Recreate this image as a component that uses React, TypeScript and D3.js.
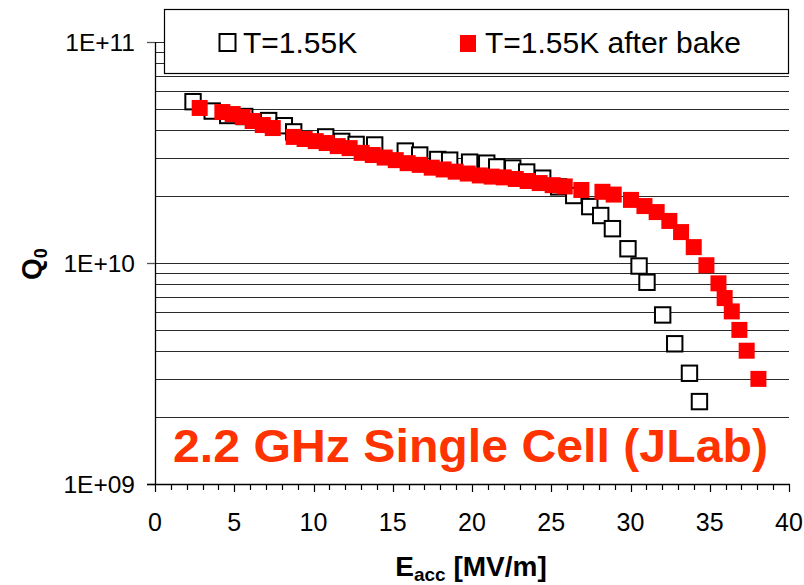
import React from "react";
import * as d3 from "d3";

const xTicks = [0, 5, 10, 15, 20, 25, 30, 35, 40];
const yTickLabels = ["1E+09", "1E+10", "1E+11"];
const yTickValues = [1e9, 1e10, 1e11];

// T=1.55K (open squares)
const eBefore = [2.40, 3.61, 4.59, 5.66, 7.17, 8.16, 8.75, 10.77, 11.78, 12.69, 13.86, 15.79, 16.70, 17.84, 18.59, 19.85, 20.93, 21.56, 22.57, 23.45, 24.46, 25.47, 26.42, 27.43, 28.12, 28.86, 29.84, 30.54, 31.04, 32.03, 32.79, 33.72, 34.35];
const qBefore = [5.37e10, 4.87e10, 4.65e10, 4.6e10, 4.41e10, 4.18e10, 3.92e10, 3.72e10, 3.55e10, 3.44e10, 3.42e10, 3.21e10, 3.08e10, 2.94e10, 2.92e10, 2.86e10, 2.83e10, 2.72e10, 2.69e10, 2.58e10, 2.42e10, 2.21e10, 2.02e10, 1.80e10, 1.64e10, 1.43e10, 1.16e10, 9.69e9, 8.18e9, 5.82e9, 4.31e9, 3.17e9, 2.36e9];

// T=1.55K after bake (red filled squares)
const eAfter = [2.82, 4.25, 4.90, 5.53, 6.16, 6.80, 7.43, 8.75, 9.44, 10.14, 10.83, 11.53, 12.28, 13.04, 13.74, 14.49, 15.19, 15.94, 16.70, 17.46, 18.21, 18.97, 19.73, 20.49, 21.24, 22.00, 22.76, 23.51, 24.27, 25.09, 25.85, 26.90, 28.23, 28.94, 30.03, 30.88, 31.65, 32.45, 33.19, 33.99, 34.79, 35.55, 35.94, 36.39, 36.87, 37.33, 38.07];
const qAfter = [5.03e10, 4.82e10, 4.72e10, 4.58e10, 4.39e10, 4.21e10, 4.08e10, 3.72e10, 3.64e10, 3.56e10, 3.49e10, 3.38e10, 3.31e10, 3.15e10, 3.08e10, 3.0e10, 2.92e10, 2.83e10, 2.78e10, 2.70e10, 2.65e10, 2.59e10, 2.54e10, 2.49e10, 2.46e10, 2.44e10, 2.40e10, 2.35e10, 2.30e10, 2.25e10, 2.22e10, 2.14e10, 2.10e10, 2.04e10, 1.93e10, 1.81e10, 1.70e10, 1.55e10, 1.38e10, 1.18e10, 9.77e9, 8.09e9, 6.94e9, 6.04e9, 4.98e9, 4.01e9, 2.99e9];

const seriesNames = ["T=1.55K", "T=1.55K after bake"];
const chartLabel = "2.2 GHz Single Cell (JLab)";

const FONT = "'Liberation Sans', Arial, sans-serif";

export default function App() {
  const left = 155, right = 789, top = 42, bottom = 484;
  const x = d3.scaleLinear().domain([0, 40]).range([left, right]);
  const y = d3.scaleLog().domain([1e9, 1e11]).range([bottom, top]);

  const gridVals: number[] = [];
  for (let d = 1e9; d < 1e11; d *= 10) {
    for (let k = 1; k <= 9; k++) gridVals.push(d * k);
  }
  gridVals.push(1e11);

  const xMinor = d3.range(0, 41, 1);

  const before = eBefore.map((e, i) => ({ e, q: qBefore[i] }));
  const after = eAfter.map((e, i) => ({ e, q: qAfter[i] }));

  return (
    <svg width={804} height={585} style={{ position: "absolute", left: 0, top: 0, background: "#fff" }} fontFamily={FONT}>
      {/* gridlines */}
      {gridVals.map((v, i) => (
        <line key={"g" + i} x1={left} x2={right} y1={Math.round(y(v)) + 0.5} y2={Math.round(y(v)) + 0.5} stroke="#2a2a2a" strokeWidth={1} />
      ))}
      {/* y axis */}
      <line x1={left + 0.5} x2={left + 0.5} y1={top} y2={bottom} stroke="#000" strokeWidth={1.3} />
      {yTickValues.map((v, i) => (
        <g key={"yt" + i}>
          <line x1={147} x2={left} y1={Math.round(y(v)) + 0.5} y2={Math.round(y(v)) + 0.5} stroke="#555" strokeWidth={1.3} />
          <text x={135} y={y(v)} dy="0.36em" textAnchor="end" fontSize={24.5} fill="#000">{yTickLabels[i]}</text>
        </g>
      ))}
      {/* x axis */}
      <line x1={147} x2={right + 1} y1={bottom + 0.5} y2={bottom + 0.5} stroke="#000" strokeWidth={1.3} />
      {xMinor.map((v) => (
        <line key={"xm" + v} x1={Math.round(x(v)) + 0.5} x2={Math.round(x(v)) + 0.5} y1={bottom} y2={bottom + (v % 5 === 0 ? 8 : 6)} stroke="#000" strokeWidth={1.2} />
      ))}
      {xTicks.map((v) => (
        <text key={"xl" + v} x={x(v)} y={531} textAnchor="middle" fontSize={25} fill="#000">{v}</text>
      ))}
      {/* axis titles */}
      <text x={471} y={576} textAnchor="middle" fontSize={28} fontWeight="bold" fill="#000">
        E<tspan fontSize={19} dy={5}>acc</tspan><tspan dy={-5}> [MV/m]</tspan>
      </text>
      <text transform="translate(41,264) rotate(-90)" textAnchor="middle" fontSize={28} fontWeight="bold" fill="#000">
        Q<tspan fontSize={18} dy={6}>0</tspan>
      </text>

      {/* data: open squares */}
      {before.map((d, i) => (
        <rect key={"b" + i} x={x(d.e) - 7.7} y={y(d.q) - 7.7} width={15.4} height={15.4} fill="#fff" stroke="#000" strokeWidth={2} />
      ))}
      {/* data: red squares */}
      {after.map((d, i) => (
        <rect key={"a" + i} x={x(d.e) - 8} y={y(d.q) - 8} width={16} height={16} fill="#ff0000" />
      ))}

      {/* chart label */}
      <text x={173} y={462} fontSize={47} fontWeight="bold" fill="#ff3300" textLength={595} lengthAdjust="spacingAndGlyphs">{chartLabel}</text>

      {/* legend */}
      <rect x={164.5} y={9.5} width={624} height={64} fill="#fff" stroke="#000" strokeWidth={1.2} />
      <rect x={219.5} y={34} width={16} height={17} fill="#fff" stroke="#000" strokeWidth={2} />
      <text x={243} y={53} fontSize={30} fill="#000">{seriesNames[0]}</text>
      <rect x={460} y={35} width={16} height={17} fill="#ff0000" />
      <text x={485} y={53} fontSize={30} fill="#000">{seriesNames[1]}</text>
    </svg>
  );
}
